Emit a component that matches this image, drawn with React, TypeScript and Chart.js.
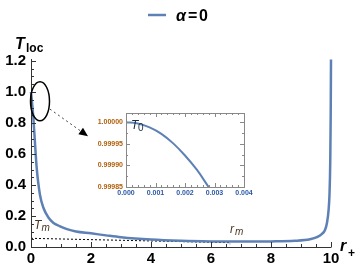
import React, { useEffect, useRef } from 'react';
import { Chart, registerables } from 'chart.js';
Chart.register(...registerables);

// ---- main curve (alpha = 0) ----
const rPlus = [0, 0.02, 0.05, 0.08, 0.12, 0.19, 0.3, 0.42, 0.58, 0.75, 0.95, 1.2, 1.5, 2.0, 2.5, 3.0, 4.0, 5.0, 6.0, 7.0, 8.0, 8.8, 9.3, 9.55, 9.7, 9.8, 9.87, 9.92, 9.95, 9.975, 9.99, 10.0];
const tLoc = [1.0, 0.96, 0.9, 0.83, 0.71, 0.51, 0.335, 0.25, 0.19, 0.155, 0.135, 0.115, 0.1, 0.088, 0.075, 0.063, 0.048, 0.04, 0.036, 0.035, 0.036, 0.04, 0.05, 0.065, 0.085, 0.11, 0.16, 0.24, 0.34, 0.55, 0.85, 1.21];
const xTicks = [0, 2, 4, 6, 8, 10];
const yTicks = [0, 0.2, 0.4, 0.6, 0.8, 1.0, 1.2];
// dotted guide T_m -> r_m
const guideR = [0, 6.63, 6.63];
const guideT = [0.056, 0.028, 0.018];
// ---- inset ----
const insetR = [0, 0.0004, 0.0008, 0.0012, 0.0016, 0.002, 0.0024, 0.0028];
const insetT = [1.0, 0.999997, 0.999988, 0.999973, 0.999951, 0.999923, 0.99989, 0.99985];
const insetXTicks = [0, 0.001, 0.002, 0.003, 0.004];
const insetYTicks = [0.99985, 0.9999, 0.99995, 1.0];
const seriesName = '0';

const BLUE = '#5E81B5';
const FONT = '"Liberation Sans", Arial, sans-serif';

function mainPlugin() {
  return {
    id: 'mainDeco',
    afterDraw(chart: any) {
      const { ctx, chartArea: a, scales } = chart;
      const xs = scales.x, ys = scales.y;
      ctx.save();
      // axes
      ctx.strokeStyle = '#333';
      ctx.lineWidth = 1;
      ctx.beginPath();
      ctx.moveTo(a.left + 0.5, a.top - 2);
      ctx.lineTo(a.left + 0.5, a.bottom + 0.5);
      ctx.lineTo(a.right + 0.5, a.bottom + 0.5);
      ctx.stroke();
      // y ticks
      for (let i = 0; i <= 24; i++) {
        const v = i * 0.05;
        const y = Math.round(ys.getPixelForValue(v)) + 0.5;
        const len = i % 4 === 0 ? 5 : 3;
        ctx.beginPath();
        ctx.moveTo(a.left, y);
        ctx.lineTo(a.left + len, y);
        ctx.stroke();
      }
      for (let i = 0; i <= 20; i++) {
        const v = i * 0.5;
        const x = Math.round(xs.getPixelForValue(v)) + 0.5;
        const len = i % 4 === 0 ? 5 : 3;
        ctx.beginPath();
        ctx.moveTo(x, a.bottom);
        ctx.lineTo(x, a.bottom - len);
        ctx.stroke();
      }
      // legend
      ctx.strokeStyle = BLUE;
      ctx.lineWidth = 2.5;
      ctx.beginPath();
      ctx.moveTo(148, 15);
      ctx.lineTo(166, 15);
      ctx.stroke();
      ctx.fillStyle = '#000';
      ctx.textBaseline = 'alphabetic';
      ctx.textAlign = 'left';
      ctx.font = `italic bold 16px ${FONT}`;
      ctx.fillText('α', 176, 21);
      ctx.font = `bold 16px ${FONT}`;
      ctx.fillText('=', 188, 21);
      ctx.fillText(seriesName, 199, 21);
      // axis titles
      ctx.font = `italic bold 16px ${FONT}`;
      ctx.fillText('T', 15, 49);
      ctx.font = `bold 12px ${FONT}`;
      ctx.fillText('loc', 26, 52);
      ctx.font = `italic bold 16px ${FONT}`;
      ctx.fillText('r', 340, 251);
      ctx.font = `bold 12px ${FONT}`;
      ctx.fillText('+', 348, 257);
      // ellipse around the top of the curve
      ctx.strokeStyle = '#000';
      ctx.lineWidth = 1.5;
      const ex = xs.getPixelForValue(0.3), ey = ys.getPixelForValue(0.94);
      ctx.beginPath();
      ctx.ellipse(ex, ey, 9.5, 19.5, 0, 0, Math.PI * 2);
      ctx.stroke();
      // dotted arrow
      const x1 = xs.getPixelForValue(0.63), y1 = ys.getPixelForValue(0.89);
      const x2 = xs.getPixelForValue(1.9), y2 = ys.getPixelForValue(0.715);
      ctx.lineWidth = 1;
      ctx.setLineDash([2, 3]);
      ctx.strokeStyle = '#444';
      ctx.beginPath();
      ctx.moveTo(x1, y1);
      ctx.lineTo(x2 - 5, y2 - 3.5);
      ctx.stroke();
      ctx.setLineDash([]);
      const ang = Math.atan2(y2 - y1, x2 - x1);
      ctx.fillStyle = '#000';
      ctx.beginPath();
      ctx.moveTo(x2, y2);
      ctx.lineTo(x2 - 9 * Math.cos(ang) + 4 * Math.sin(ang), y2 - 9 * Math.sin(ang) - 4 * Math.cos(ang));
      ctx.lineTo(x2 - 9 * Math.cos(ang) - 4 * Math.sin(ang), y2 - 9 * Math.sin(ang) + 4 * Math.cos(ang));
      ctx.closePath();
      ctx.fill();
      // T_m, r_m labels
      ctx.fillStyle = '#4a3520';
      ctx.font = `italic 12px ${FONT}`;
      const tmx = xs.getPixelForValue(0.1), tmy = ys.getPixelForValue(0.115);
      ctx.fillText('T', tmx, tmy);
      ctx.font = `italic 10px ${FONT}`;
      ctx.fillText('m', tmx + 7.5, tmy + 2);
      const rmx = xs.getPixelForValue(6.63), rmy = ys.getPixelForValue(0.09);
      ctx.font = `italic 12px ${FONT}`;
      ctx.fillText('r', rmx, rmy);
      ctx.font = `italic 10px ${FONT}`;
      ctx.fillText('m', rmx + 5, rmy + 2);
      ctx.restore();
    },
  };
}

function insetPlugin() {
  return {
    id: 'insetDeco',
    beforeDraw(chart: any) {
      const { ctx, chartArea: a } = chart;
      ctx.save();
      ctx.fillStyle = '#fff';
      ctx.fillRect(a.left, a.top, a.right - a.left, a.bottom - a.top);
      ctx.restore();
    },
    afterDraw(chart: any) {
      const { ctx, chartArea: a, scales } = chart;
      const xs = scales.x, ys = scales.y;
      ctx.save();
      ctx.strokeStyle = '#888';
      ctx.lineWidth = 1;
      ctx.strokeRect(Math.round(a.left) + 0.5, Math.round(a.top) + 0.5, Math.round(a.right - a.left), Math.round(a.bottom - a.top));
      for (let i = 0; i <= 20; i++) {
        const v = i * 0.0002;
        const x = Math.round(xs.getPixelForValue(v)) + 0.5;
        const len = i % 5 === 0 ? 4 : 2;
        ctx.beginPath();
        ctx.moveTo(x, a.bottom); ctx.lineTo(x, a.bottom - len);
        ctx.moveTo(x, a.top); ctx.lineTo(x, a.top + len);
        ctx.stroke();
      }
      for (let i = 0; i <= 7; i++) {
        const v = 0.99985 + i * 0.000025;
        const y = Math.round(ys.getPixelForValue(v)) + 0.5;
        if (y < a.top) continue;
        const len = i % 2 === 0 ? 4 : 2;
        ctx.beginPath();
        ctx.moveTo(a.left, y); ctx.lineTo(a.left + len, y);
        ctx.moveTo(a.right, y); ctx.lineTo(a.right - len, y);
        ctx.stroke();
      }
      ctx.fillStyle = '#1a2a40';
      ctx.font = `italic 12px ${FONT}`;
      ctx.textBaseline = 'alphabetic';
      ctx.fillText('T', a.left + 5, a.top + 16);
      ctx.font = `10px ${FONT}`;
      ctx.fillText('0', a.left + 12, a.top + 18);
      ctx.restore();
    },
  };
}

export default function App() {
  const mainRef = useRef<HTMLCanvasElement>(null);
  const insetRef = useRef<HTMLCanvasElement>(null);

  useEffect(() => {
    const main = new Chart(mainRef.current!, {
      type: 'scatter',
      data: {
        datasets: [
          {
            data: rPlus.map((r, i) => ({ x: r, y: tLoc[i] })),
            showLine: true,
            borderColor: BLUE,
            borderWidth: 2.5,
            pointRadius: 0,
            cubicInterpolationMode: 'monotone',
            clip: false,
          } as any,
          {
            data: guideR.map((r, i) => ({ x: r, y: guideT[i] })),
            showLine: true,
            borderColor: '#000',
            borderWidth: 1,
            borderDash: [2, 2],
            pointRadius: 0,
          },
        ],
      },
      options: {
        animation: false,
        responsive: false,
        devicePixelRatio: 1,
        layout: { padding: { left: 0, right: 29, top: 61, bottom: 0 } },
        plugins: { legend: { display: false }, tooltip: { enabled: false } },
        scales: {
          x: {
            type: 'linear',
            min: 0,
            max: 10,
            grid: { display: false, drawTicks: false },
            border: { display: false },
            afterBuildTicks: (s: any) => { s.ticks = xTicks.map((v) => ({ value: v })); },
            afterFit: (s: any) => { s.height = 25; },
            ticks: {
              padding: 3,
              color: '#000',
              font: { family: FONT, size: 15, weight: 'bold' },
              maxRotation: 0,
              callback: (v: any) => String(v),
            },
          },
          y: {
            type: 'linear',
            min: 0,
            max: 1.2,
            grid: { display: false, drawTicks: false },
            border: { display: false },
            afterBuildTicks: (s: any) => { s.ticks = yTicks.map((v) => ({ value: v })); },
            afterFit: (s: any) => { s.width = 31; },
            ticks: {
              padding: 5,
              color: '#000',
              font: { family: FONT, size: 15, weight: 'bold' },
              callback: (v: any) => Number(v).toFixed(1),
            },
          },
        },
      },
      plugins: [mainPlugin()],
    });

    const inset = new Chart(insetRef.current!, {
      type: 'scatter',
      data: {
        datasets: [
          {
            data: insetR.map((r, i) => ({ x: r, y: insetT[i] })),
            showLine: true,
            borderColor: BLUE,
            borderWidth: 2,
            pointRadius: 0,
            tension: 0.4,
          } as any,
        ],
      },
      options: {
        animation: false,
        responsive: false,
        devicePixelRatio: 1,
        layout: { padding: { left: 0, right: 16, top: 9, bottom: 0 } },
        plugins: { legend: { display: false }, tooltip: { enabled: false } },
        scales: {
          x: {
            type: 'linear',
            min: 0,
            max: 0.004,
            grid: { display: false, drawTicks: false },
            border: { display: false },
            afterBuildTicks: (s: any) => { s.ticks = insetXTicks.map((v) => ({ value: v })); },
            afterFit: (s: any) => { s.height = 17; },
            ticks: {
              padding: 2,
              color: '#2a58a8',
              font: { family: FONT, size: 7, weight: 'bold' },
              maxRotation: 0,
              callback: (v: any) => Number(v).toFixed(3),
            },
          },
          y: {
            type: 'linear',
            min: 0.99985,
            max: 1.0000213,
            grid: { display: false, drawTicks: false },
            border: { display: false },
            afterBuildTicks: (s: any) => { s.ticks = insetYTicks.map((v) => ({ value: v })); },
            afterFit: (s: any) => { s.width = 46; },
            ticks: {
              padding: 3,
              color: '#b0600a',
              font: { family: FONT, size: 7, weight: 'bold' },
              callback: (v: any) => Number(v).toFixed(5),
            },
          },
        },
      },
      plugins: [insetPlugin()],
    });

    return () => {
      main.destroy();
      inset.destroy();
    };
  }, []);

  return (
    <div style={{ position: 'fixed', left: 0, top: 0, width: 360, height: 272, background: '#fff' }}>
      <canvas ref={mainRef} width={360} height={272} style={{ position: 'absolute', left: 0, top: 0, width: 360, height: 272 }} />
      <canvas ref={insetRef} width={180} height={100} style={{ position: 'absolute', left: 80, top: 104, width: 180, height: 100 }} />
    </div>
  );
}
